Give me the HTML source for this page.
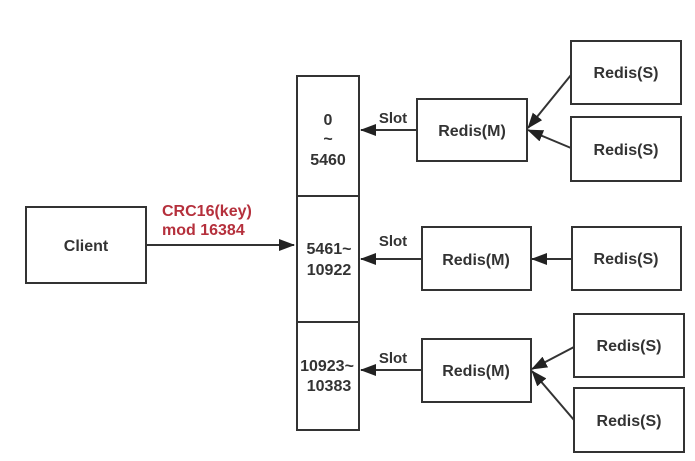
<!DOCTYPE html>
<html><head><style>
html,body{margin:0;padding:0;background:#fff;}
svg{display:block;}
text{font-family:"Liberation Sans","DejaVu Sans",sans-serif;font-weight:bold;fill:#333;}
</style></head><body>
<svg width="695" height="461" viewBox="0 0 695 461" xmlns="http://www.w3.org/2000/svg">
<defs><marker id="b" markerWidth="16" markerHeight="12" refX="15" refY="6" orient="auto" markerUnits="userSpaceOnUse"><path d="M0,0 L16,6 L0,12 z" fill="#222"/></marker></defs>
<g fill="none" stroke="#333" stroke-width="2">
<rect x="26" y="207" width="120" height="76"/>
<rect x="297" y="76" width="62" height="354"/>
<line x1="297" y1="196" x2="359" y2="196"/>
<line x1="297" y1="322" x2="359" y2="322"/>
<rect x="417" y="99" width="110" height="62"/>
<rect x="422" y="227" width="109" height="63"/>
<rect x="422" y="339" width="109" height="63"/>
<rect x="571" y="41" width="110" height="63"/>
<rect x="571" y="117" width="110" height="64"/>
<rect x="572" y="227" width="109" height="63"/>
<rect x="574" y="314" width="110" height="63"/>
<rect x="574" y="388" width="110" height="64"/>
</g>
<g stroke="#333" stroke-width="2">
<line x1="146" y1="245" x2="294" y2="245" marker-end="url(#b)"/>
<line x1="417" y1="130" x2="361" y2="130" marker-end="url(#b)"/>
<line x1="422" y1="259" x2="361" y2="259" marker-end="url(#b)"/>
<line x1="422" y1="370" x2="361" y2="370" marker-end="url(#b)"/>
<line x1="571" y1="75" x2="528" y2="128" marker-end="url(#b)"/>
<line x1="571" y1="148" x2="528" y2="130" marker-end="url(#b)"/>
<line x1="572" y1="259" x2="532" y2="259" marker-end="url(#b)"/>
<line x1="574" y1="347" x2="532" y2="369" marker-end="url(#b)"/>
<line x1="574" y1="420" x2="532" y2="371" marker-end="url(#b)"/>
</g>
<g font-size="16" text-anchor="middle">
<text x="86" y="251">Client</text>
<text x="328" y="125">0</text>
<text x="328" y="144">~</text>
<text x="328" y="165">5460</text>
<text x="329" y="254">5461~</text>
<text x="329" y="275">10922</text>
<text x="327" y="371">10923~</text>
<text x="329" y="391">10383</text>
<text x="472" y="136">Redis(M)</text>
<text x="476" y="265">Redis(M)</text>
<text x="476" y="376">Redis(M)</text>
<text x="626" y="78">Redis(S)</text>
<text x="626" y="155">Redis(S)</text>
<text x="626" y="264">Redis(S)</text>
<text x="629" y="351">Redis(S)</text>
<text x="629" y="426">Redis(S)</text>
<text x="393" y="123" font-size="15">Slot</text>
<text x="393" y="246" font-size="15">Slot</text>
<text x="393" y="363" font-size="15">Slot</text>
</g>
<g font-size="16">
<text x="162" y="216" style="fill:#b5303c">CRC16(key)</text>
<text x="162" y="235" style="fill:#b5303c">mod 16384</text>
</g>
</svg>
</body></html>
